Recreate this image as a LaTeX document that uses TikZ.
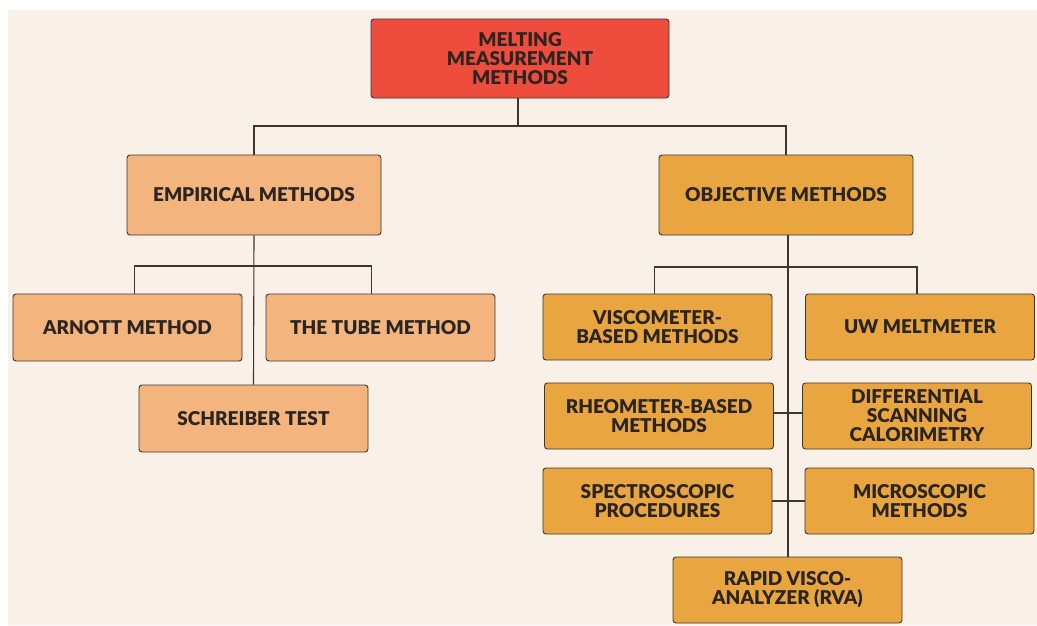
\documentclass[tikz,border=0pt]{standalone}
\usepackage{fontspec}
\setmainfont{Lato}
\newfontfamily\heavyfont{Lato Black}
\usetikzlibrary{backgrounds}
\definecolor{bgcream}{HTML}{F9F1E8}
\definecolor{topred}{HTML}{EE4D3D}
\definecolor{lightor}{HTML}{F3B47E}
\definecolor{darkor}{HTML}{E9A640}
\definecolor{edge}{HTML}{3C3633}
\definecolor{txt}{HTML}{2A2522}
\tikzset{
  box/.style={draw=edge, line width=0.9pt, rounded corners=3pt, align=center,
    font=\heavyfont\fontsize{19}{19}\selectfont, text=txt, inner sep=2pt},
  wide/.style={box, minimum width=254pt, minimum height=80pt, fill=lightor},
  leaf/.style={box, minimum width=229pt, minimum height=67pt, fill=lightor},
  oleaf/.style={box, minimum width=229pt, minimum height=66pt, fill=darkor},
  conn/.style={draw=edge, line width=1.1pt}
}
\begin{document}
\begin{tikzpicture}[x=1pt,y=-1pt]
\useasboundingbox (0,0) rectangle (1037,625);
\node[box, fill=topred, minimum width=298pt, minimum height=79pt] (top) at (520,58.5) {MELTING\\MEASUREMENT\\METHODS};
\node[wide] (emp) at (254,195) {EMPIRICAL METHODS};
\node[wide, fill=darkor] (obj) at (786,195) {OBJECTIVE METHODS};
\node[leaf] (arn) at (127.5,327.5) {ARNOTT METHOD};
\node[leaf] (tube) at (380.5,327.5) {THE TUBE METHOD};
\node[leaf] (sch) at (253.5,418.5) {SCHREIBER TEST};
\node[oleaf] (visc) at (657.5,327) {VISCOMETER-\\BASED METHODS};
\node[oleaf] (uw) at (920,327) {UW MELTMETER};
\node[oleaf] (rheo) at (659,416) {RHEOMETER-BASED\\METHODS};
\node[oleaf] (dsc) at (917,416) {DIFFERENTIAL\\SCANNING\\CALORIMETRY};
\node[oleaf] (spec) at (657.5,501) {SPECTROSCOPIC\\PROCEDURES};
\node[oleaf] (micro) at (919.5,501) {MICROSCOPIC\\METHODS};
\node[oleaf] (rva) at (787.5,590) {RAPID VISCO-\\ANALYZER (RVA)};
\coordinate (j1) at (518,126);
\coordinate (j2) at (254,266);
\coordinate (j3) at (788,267);
\begin{scope}[on background layer]
  \fill[bgcream] (8,10) rectangle (1037,625);
  \draw[conn] (top.south -| j1) -- (j1);
  \draw[conn] (emp.north) |- (j1) -| (obj.north);
  \draw[conn] (emp.south) -- (sch.north);
  \draw[conn] ([xshift=7pt]arn.north) |- (j2) -| ([xshift=-9pt]tube.north);
  \draw[conn] (obj.south -| j3) -- (rva.north -| j3);
  \draw[conn] ([xshift=-3pt]visc.north) |- (j3) -| ([xshift=-3pt]uw.north);
  \draw[conn] ([yshift=3pt]rheo.east) -- ([yshift=3pt]dsc.west);
  \draw[conn] (spec.east) -- (micro.west);
\end{scope}
\end{tikzpicture}
\end{document}
